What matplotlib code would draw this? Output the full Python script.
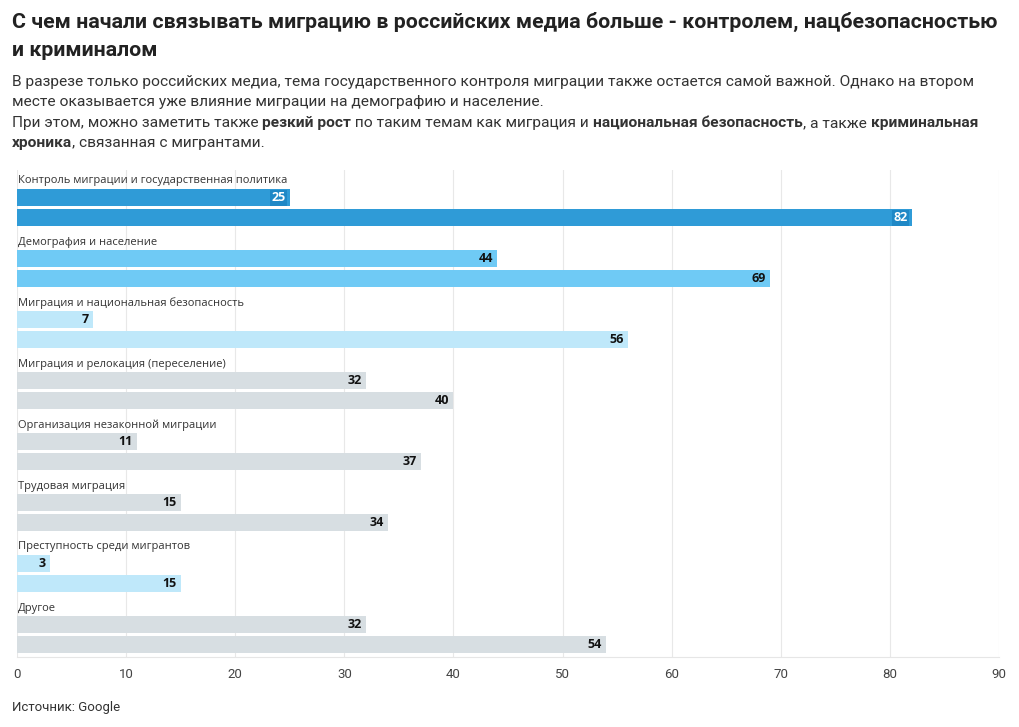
import matplotlib
matplotlib.use("Agg")
import matplotlib.pyplot as plt
from matplotlib.transforms import IdentityTransform

categories = [
    "Контроль миграции и государственная политика",
    "Демография и население",
    "Миграция и национальная безопасность",
    "Миграция и релокация (переселение)",
    "Организация незаконной миграции",
    "Трудовая миграция",
    "Преступность среди мигрантов",
    "Другое",
]
values_before = [25, 44, 7, 32, 11, 15, 3, 32]
values_after = [82, 69, 56, 40, 37, 34, 15, 54]
bar_colors = ["#2f9bd7", "#6fcaf5", "#bfe8fa", "#d7dee2",
              "#d7dee2", "#d7dee2", "#bfe8fa", "#d7dee2"]
label_bg = ["#1f88c6", "#6fcaf5", "#bfe8fa", "#d7dee2",
            "#d7dee2", "#d7dee2", "#bfe8fa", "#d7dee2"]
label_fg = ["white", "#111111", "#111111", "#111111",
            "#111111", "#111111", "#111111", "#111111"]
xticks = [0, 10, 20, 30, 40, 50, 60, 70, 80, 90]

title_lines = [
    "С чем начали связывать миграцию в российских медиа больше - контролем, нацбезопасностью",
    "и криминалом",
]
subtitle_lines = [
    [("В разрезе только российских медиа, тема государственного контроля миграции также остается самой важной. Однако на втором", False)],
    [("месте оказывается уже влияние миграции на демографию и население.", False)],
    [("При этом, можно заметить также ", False), ("резкий рост", True),
     (" по таким темам как миграция и ", False), ("национальная безопасность", True),
     (", а также ", False), ("криминальная", True)],
    [("хроника", True), (", связанная с мигрантами.", False)],
]
source_text = "Источник: Google"

HEAD_FONT = "Roboto"

W, H = 1020, 727
fig = plt.figure(figsize=(W / 100, H / 100), dpi=100)
fig.patch.set_facecolor("white")
ident = IdentityTransform()
renderer = fig.canvas.get_renderer()

ax_left, ax_right, ax_top, ax_bottom = 17, 999, 170, 657
ax = fig.add_axes([ax_left / W, 1 - ax_bottom / H, (ax_right - ax_left) / W, (ax_bottom - ax_top) / H])
span = ax_bottom - ax_top
ax.set_xlim(0, 90)
ax.set_ylim(span, 0)

group_step = 61
bar_h = 17
for i, cat in enumerate(categories):
    top = 19 + group_step * i
    y1 = top + bar_h / 2
    y2 = top + bar_h + 3 + bar_h / 2
    ax.barh([y1, y2], [values_before[i], values_after[i]], height=bar_h,
            color=bar_colors[i], zorder=2)
    ax.text(0.1, top - 8, cat, fontsize=8, color="#333333", family="Open Sans",
            va="center", ha="left", zorder=3)
    for yy, v in ((y1, values_before[i]), (y2, values_after[i])):
        ax.annotate(str(v), xy=(v, yy), xytext=(-3, 0), textcoords="offset points",
                    ha="right", va="center", fontsize=9, fontweight="bold",
                    family="Open Sans", color=label_fg[i], zorder=4,
                    bbox=dict(boxstyle="square,pad=0.12", fc=label_bg[i], ec="none"))

ax.set_xticks(xticks)
ax.set_xticklabels([str(t) for t in xticks], family=HEAD_FONT,
                   fontsize=9.5, color="#444444")
ax.set_yticks([])
ax.tick_params(axis="x", length=0, pad=8)
ax.grid(axis="x", color="#e8e8e8", linewidth=0.8, zorder=0)
for s in ("top", "right", "left"):
    ax.spines[s].set_visible(False)
ax.spines["bottom"].set_color("#e6e6e6")
ax.set_axisbelow(True)


def fit_size(segs, target, weight_default="normal", base=12):
    total = 0
    for txt, bold in segs:
        t = fig.text(0, 0, txt, transform=ident, fontsize=base, family=HEAD_FONT,
                     fontweight="bold" if bold else weight_default)
        total += t.get_window_extent(renderer=renderer).width
        t.remove()
    return base * target / total


# title
title_size = fit_size([(title_lines[0], True)], 985)
for k, line in enumerate(title_lines):
    fig.text(12, H - (22 + 28 * k), line, transform=ident, fontsize=title_size,
             fontweight="bold", family=HEAD_FONT, color="#222222",
             va="center", ha="left")

# subtitle
sub_size = min(fit_size(subtitle_lines[0], 955), fit_size(subtitle_lines[2], 978))
sub_y = [82, 102, 123, 143]
for k, segs in enumerate(subtitle_lines):
    x = 12
    for txt, bold in segs:
        t = fig.text(x, H - sub_y[k], txt, transform=ident, fontsize=sub_size,
                     fontweight="bold" if bold else "normal",
                     family=HEAD_FONT, color="#333333",
                     va="center", ha="left")
        x += t.get_window_extent(renderer=renderer).width

fig.text(12, H - 708, source_text, transform=ident, fontsize=9.5,
         family=HEAD_FONT, color="#333333", va="center", ha="left")

fig.savefig("out.png", dpi=100)
